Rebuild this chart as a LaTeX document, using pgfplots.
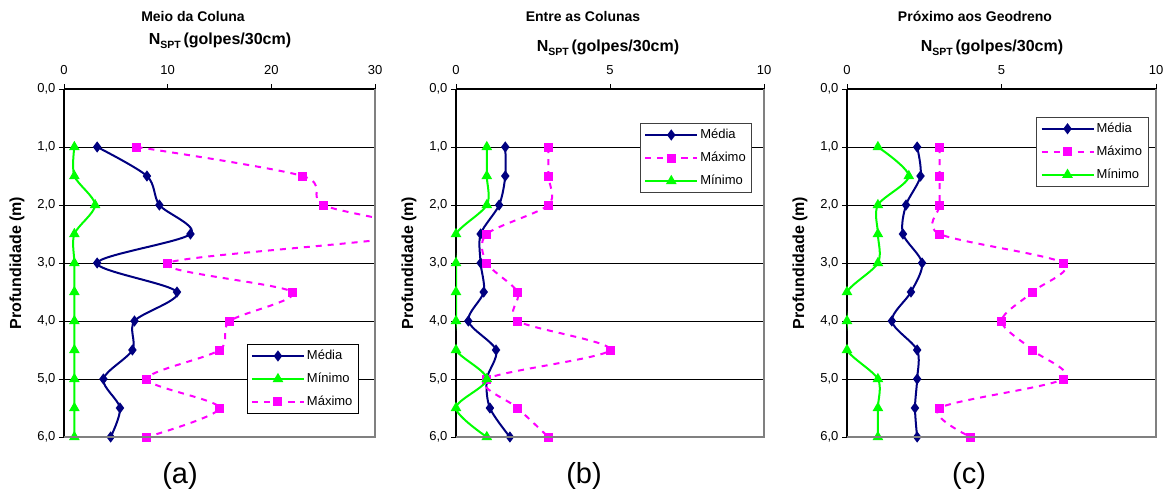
\documentclass[border=0pt]{standalone}
\usepackage{fontspec}
\setmainfont{Liberation Sans}
\usepackage{pgfplots}
\pgfplotsset{compat=1.18}

\definecolor{media}{RGB}{0,0,128}
\definecolor{minimo}{RGB}{0,255,0}
\definecolor{maximo}{RGB}{255,0,255}
\definecolor{borda}{RGB}{128,128,128}

\newcommand{\nspt}{N\raisebox{-3.5pt}{\fontsize{10.5}{10.5}\selectfont SPT}\,(golpes/30cm)}

\pgfplotsset{
  spt/.style={
    scale only axis, height=348pt,
    y dir=reverse, ymin=0, ymax=6, ytick={0,1,...,6},
    xmin=0,
    axis x line*=top, axis y line*=left,
    axis line style={black, line width=1.2pt},
    ymajorgrids, grid style={black, line width=0.7pt},
    tick style={black, line width=0.9pt},
    tick align=outside, major tick length=5pt,
    ticklabel style={font=\fontsize{13}{13}\selectfont},
    /pgf/number format/assume math mode=true,
    yticklabel={\pgfmathprintnumber[fixed,fixed zerofill,precision=1,use comma]{\tick}},
    xticklabel style={yshift=6pt},
    clip mode=individual,
    legend cell align=left,
    legend image code/.code={\draw[mark repeat=2,mark phase=2] plot coordinates {(0pt,0pt) (26pt,0pt) (52pt,0pt)};},
    legend style={anchor=north west, fill=white, line width=0.8pt,
      font=\fontsize{13}{13}\selectfont, inner xsep=4pt, inner ysep=5pt,
      row sep=10pt,
      nodes={inner xsep=2pt, inner ysep=0pt, text height=10pt, text depth=3pt}},
    after end axis/.code={
      \draw[borda, line width=1.2pt] (axis description cs:1,1) -- (axis description cs:1,0) -- (axis description cs:0,0);
    },
  },
  pmedia/.style={color=media, line width=2pt, smooth, mark=diamond*, mark size=4pt,
    mark options={solid, fill=media, draw=media}},
  pminimo/.style={color=minimo, line width=2pt, smooth, mark=triangle*, mark size=4.2pt,
    mark options={solid, fill=minimo, draw=minimo}},
  pmaximo/.style={color=maximo, line width=2pt, smooth, dash pattern=on 6pt off 6pt,
    mark=square*, mark size=3.5pt, mark options={solid, fill=maximo, draw=maximo}},
}

\begin{document}
\begin{tikzpicture}[x=1pt,y=1pt]
\useasboundingbox (0,0) rectangle (1172,495);

% (a) Meio da Coluna
\begin{axis}[spt, at={(64pt,58pt)}, anchor=south west, width=311pt,
  xmax=30, xtick={0,10,20,30},
  legend style={at={(axis description cs:0.587,0.267)}, draw=black}]
\addplot[pmedia] coordinates {(3.2,1) (8.0,1.5) (9.2,2) (12.2,2.5) (3.2,3) (10.9,3.5) (6.8,4) (6.6,4.5) (3.8,5) (5.4,5.5) (4.5,6)};
\addlegendentry{Média}
\addplot[pminimo] coordinates {(1,1) (1,1.5) (3,2) (1,2.5) (1,3) (1,3.5) (1,4) (1,4.5) (1,5) (1,5.5) (1,6)};
\addlegendentry{Mínimo}
\addplot[pmaximo] coordinates {(7,1) (23,1.5) (25,2) (34,2.5) (10,3) (22,3.5) (16,4) (15,4.5) (8,5) (15,5.5) (8,6)};
\addlegendentry{Máximo}
\end{axis}

% (b) Entre as Colunas
\begin{axis}[spt, at={(456pt,58pt)}, anchor=south west, width=308pt,
  xmax=10, xtick={0,5,10},
  legend style={at={(axis description cs:0.597,0.902)}, draw=black!75}]
\addplot[pmedia] coordinates {(1.6,1) (1.6,1.5) (1.4,2) (0.8,2.5) (0.8,3) (0.9,3.5) (0.4,4) (1.3,4.5) (1.0,5) (1.1,5.5) (1.75,6)};
\addlegendentry{Média}
\addplot[pmaximo] coordinates {(3,1) (3,1.5) (3,2) (1,2.5) (1,3) (2,3.5) (2,4) (5,4.5) (1,5) (2,5.5) (3,6)};
\addlegendentry{Máximo}
\addplot[pminimo] coordinates {(1,1) (1,1.5) (1,2) (0,2.5) (0,3) (0,3.5) (0,4) (0,4.5) (1,5) (0,5.5) (1,6)};
\addlegendentry{Mínimo}
\end{axis}

% (c) Próximo aos Geodreno
\begin{axis}[spt, at={(847pt,58pt)}, anchor=south west, width=309pt,
  xmax=10, xtick={0,5,10},
  legend style={at={(axis description cs:0.612,0.920)}, draw=black!75}]
\addplot[pmedia] coordinates {(2.27,1) (2.38,1.5) (1.91,2) (1.81,2.5) (2.43,3) (2.07,3.5) (1.45,4) (2.27,4.5) (2.27,5) (2.2,5.5) (2.27,6)};
\addlegendentry{Média}
\addplot[pmaximo] coordinates {(3,1) (3,1.5) (3,2) (3,2.5) (7,3) (6,3.5) (5,4) (6,4.5) (7,5) (3,5.5) (4,6)};
\addlegendentry{Máximo}
\addplot[pminimo] coordinates {(1,1) (2,1.5) (1,2) (1,2.5) (1,3) (0,3.5) (0,4) (0,4.5) (1,5) (1,5.5) (1,6)};
\addlegendentry{Mínimo}
\end{axis}

% titles and axis labels
\begin{scope}[font=\bfseries]
\node[anchor=base, font=\fontsize{14}{14}\selectfont\bfseries] at (193,473) {Meio da Coluna};
\node[anchor=base, font=\fontsize{14}{14}\selectfont\bfseries] at (583,473) {Entre as Colunas};
\node[anchor=base, font=\fontsize{14}{14}\selectfont\bfseries] at (975,473) {Próximo aos Geodreno};
\node[anchor=base, font=\fontsize{16}{16}\selectfont\bfseries] at (220,450) {\nspt};
\node[anchor=base, font=\fontsize{16}{16}\selectfont\bfseries] at (608,443) {\nspt};
\node[anchor=base, font=\fontsize{16}{16}\selectfont\bfseries] at (992,443) {\nspt};
\node[rotate=90, font=\fontsize{16}{16}\selectfont\bfseries] at (17,232) {Profundidade (m)};
\node[rotate=90, font=\fontsize{16}{16}\selectfont\bfseries] at (409,232) {Profundidade (m)};
\node[rotate=90, font=\fontsize{16}{16}\selectfont\bfseries] at (800,232) {Profundidade (m)};
\end{scope}
\node[anchor=base, font=\fontsize{29}{29}\selectfont] at (180,11) {(a)};
\node[anchor=base, font=\fontsize{29}{29}\selectfont] at (584,11) {(b)};
\node[anchor=base, font=\fontsize{29}{29}\selectfont] at (969,11) {(c)};
\end{tikzpicture}
\end{document}
